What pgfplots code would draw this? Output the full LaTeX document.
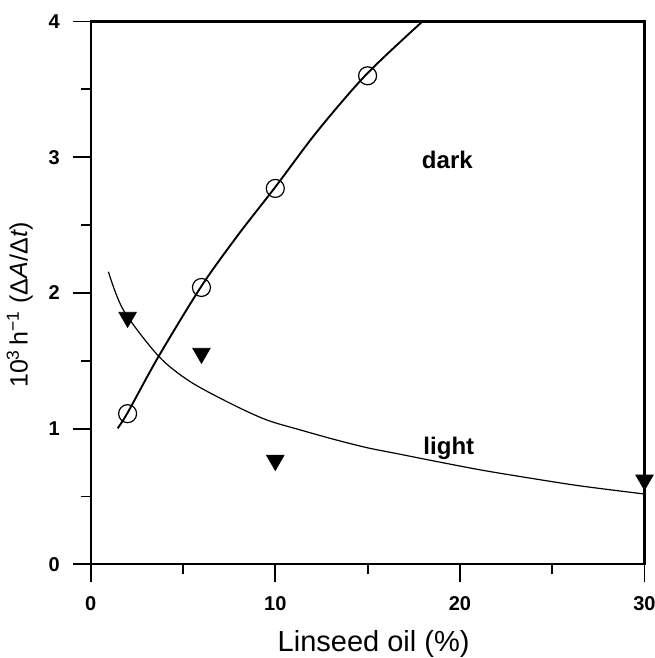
\documentclass[border=0pt]{standalone}
\usepackage{fontspec}
\setmainfont{Liberation Sans}
\usepackage{pgfplots}
\pgfplotsset{compat=1.18}
\usetikzlibrary{calc}

\begin{document}
\begin{tikzpicture}
\begin{axis}[
  name=ax,
  scale only axis,
  width=276.9pt, height=271.4pt,
  xmin=0, xmax=30, ymin=0, ymax=4,
  xtick={0,10,20,30}, ytick={0,1,2,3,4},
  minor xtick={5,15,25}, minor ytick={0.5,1.5,2.5,3.5},
  tick align=outside,
  xtick pos=bottom, ytick pos=left,
  major tick length=9pt, minor tick length=5pt,
  tick style={line width=0.9pt, black},
  axis line style={line width=1.1pt},
  ticklabel style={font=\fontsize{10}{12}\selectfont\bfseries},
  yticklabel style={xshift=-3pt},
  /pgf/number format/assume math mode=true,
  xticklabel shift=3.5pt,
  xlabel={Linseed oil (\%)},
  ylabel={10\textsuperscript{3}\,h\textsuperscript{−1} (Δ\textit{A}/Δ\textit{t})},
  xlabel style={font=\fontsize{14.5}{17}\selectfont, yshift=-3pt, xshift=3pt},
  ylabel style={font=\fontsize{12.5}{15}\selectfont, at={(axis description cs:-0.092,0.478)}, anchor=south},
  clip=false,
]
% light curve (fit)
\addplot[black, line width=0.6pt, smooth, no marks] coordinates {
  (0.96,2.156) (1.77,1.874) (3.67,1.535) (5.39,1.346) (7.74,1.174)
  (9.55,1.063) (11.36,0.990) (13.17,0.921) (14.98,0.859) (16.8,0.810)
  (18.42,0.766) (21.14,0.695) (23.85,0.634) (26.56,0.577) (30,0.518)
};
% dark curve (fit)
\addplot[black, line width=0.95pt, smooth, no marks] coordinates {
  (1.46,1.002) (2,1.117) (3.67,1.53) (6,2.05) (8,2.43) (10,2.78)
  (12.27,3.19) (14.93,3.61) (17.97,4.0)
};
% dark data
\addplot[only marks, mark=o, mark size=4.5pt, mark options={line width=0.6pt, black}] coordinates {
  (2,1.11) (6,2.04) (10,2.77) (15,3.60)
};
% light data
\addplot[only marks, mark=triangle*, mark size=5pt, mark options={rotate=180, fill=black, draw=black}] coordinates {
  (2,1.82) (6,1.555) (10,0.766) (30,0.621)
};
\node[font=\fontsize{12}{14}\selectfont\bfseries] at (axis cs:19.32,2.98) {dark};
\node[font=\fontsize{12}{14}\selectfont\bfseries] at (axis cs:19.4,0.856) {light};
\end{axis}
\pgfresetboundingbox
\path[use as bounding box] ($(ax.south west)+(-45.35pt,-46.85pt)$) rectangle ($(ax.north east)+(5.25pt,10.75pt)$);
\end{tikzpicture}
\end{document}
